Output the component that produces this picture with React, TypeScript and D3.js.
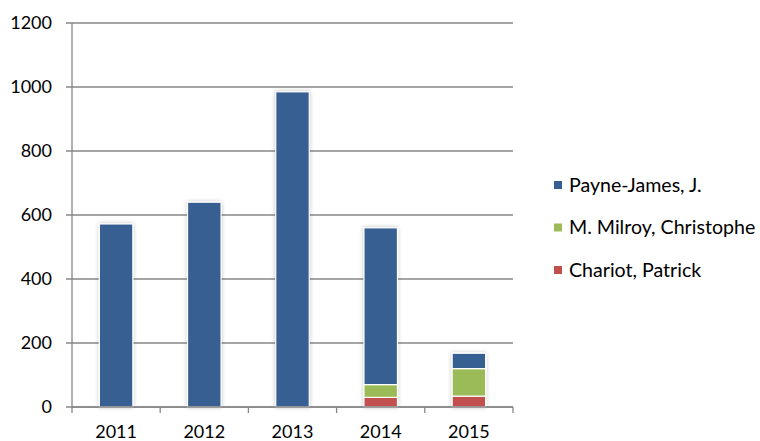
import React, { useEffect, useRef } from 'react';
import * as d3 from 'd3';

const years = ['2011', '2012', '2013', '2014', '2015'];
const payneJames = [572, 640, 985, 490, 48];
const milroy = [0, 0, 0, 40, 86];
const chariot = [0, 0, 0, 30, 34];
const seriesNames = ['Payne-James, J.', 'M. Milroy, Christophe', 'Chariot, Patrick'];
const seriesColors = ['#375f91', '#9bbb59', '#c0504d'];
const yTicks = [0, 200, 400, 600, 800, 1000, 1200];

function App() {
  const ref = useRef<SVGSVGElement>(null);

  useEffect(() => {
    const svg = d3.select(ref.current);
    svg.selectAll('*').remove();

    const left = 72;
    const right = 513;
    const top = 23;
    const bottom = 407;
    const font = 'Lato, Liberation Sans, sans-serif';
    const fontSize = 18;

    const x = d3.scaleBand().domain(years).range([left, right]).paddingInner(0.62).paddingOuter(0.31);
    const y = d3.scaleLinear().domain([0, 1200]).range([bottom, top]);

    const defs = svg.append('defs');
    const filter = defs.append('filter').attr('id', 'shadow').attr('x', '-30%').attr('y', '-10%').attr('width', '160%').attr('height', '120%');
    filter.append('feGaussianBlur').attr('in', 'SourceAlpha').attr('stdDeviation', 2);
    filter.append('feComponentTransfer').append('feFuncA').attr('type', 'linear').attr('slope', 0.25);
    const merge = filter.append('feMerge');
    merge.append('feMergeNode');
    merge.append('feMergeNode').attr('in', 'SourceGraphic');

    // gridlines
    svg.append('g')
      .selectAll('line')
      .data(yTicks)
      .enter()
      .append('line')
      .attr('x1', left - 6)
      .attr('x2', right)
      .attr('y1', (d) => y(d))
      .attr('y2', (d) => y(d))
      .attr('stroke', '#878787')
      .attr('stroke-width', 1.3);

    svg.append('g')
      .selectAll('text')
      .data(yTicks)
      .enter()
      .append('text')
      .attr('x', left - 20)
      .attr('y', (d) => y(d))
      .attr('dy', '0.35em')
      .attr('text-anchor', 'end')
      .attr('font-family', font)
      .attr('font-size', fontSize)
      .attr('fill', '#000')
      .text((d) => d);

    const stackData = years.map((yr, i) => ({
      year: yr,
      chariot: chariot[i],
      milroy: milroy[i],
      payne: payneJames[i],
    }));
    const keys = ['chariot', 'milroy', 'payne'];
    const colorOf: Record<string, string> = {
      payne: seriesColors[0],
      milroy: seriesColors[1],
      chariot: seriesColors[2],
    };
    const stacked = d3.stack<any>().keys(keys)(stackData);

    const barGroup = svg.append('g').attr('filter', 'url(#shadow)');
    stacked.forEach((layer) => {
      barGroup
        .append('g')
        .selectAll('rect')
        .data(layer.filter((d) => d[1] - d[0] > 0))
        .enter()
        .append('rect')
        .attr('x', (d) => x(d.data.year)!)
        .attr('y', (d) => y(d[1]))
        .attr('width', x.bandwidth())
        .attr('height', (d) => y(d[0]) - y(d[1]))
        .attr('fill', colorOf[layer.key])
        .attr('stroke', '#fff')
        .attr('stroke-width', 1.2);
    });

    // axes
    svg.append('line')
      .attr('x1', left).attr('x2', left).attr('y1', top).attr('y2', bottom)
      .attr('stroke', '#878787').attr('stroke-width', 1.3);
    svg.append('line')
      .attr('x1', left).attr('x2', right).attr('y1', bottom).attr('y2', bottom)
      .attr('stroke', '#878787').attr('stroke-width', 1.3);

    const step = (right - left) / years.length;
    svg.append('g')
      .selectAll('line')
      .data(d3.range(years.length + 1))
      .enter()
      .append('line')
      .attr('x1', (d) => left + d * step)
      .attr('x2', (d) => left + d * step)
      .attr('y1', bottom)
      .attr('y2', bottom + 6)
      .attr('stroke', '#878787')
      .attr('stroke-width', 1.3);

    svg.append('g')
      .selectAll('text')
      .data(years)
      .enter()
      .append('text')
      .attr('x', (d) => x(d)! + x.bandwidth() / 2)
      .attr('y', 432)
      .attr('dy', '0.35em')
      .attr('text-anchor', 'middle')
      .attr('font-family', font)
      .attr('font-size', fontSize)
      .text((d) => d);

    // legend
    const legend = svg.append('g')
      .selectAll('g')
      .data(seriesNames)
      .enter()
      .append('g')
      .attr('transform', (d, i) => `translate(554, ${185 + i * 42.5})`);
    legend.append('rect')
      .attr('x', 0)
      .attr('y', -4)
      .attr('width', 8)
      .attr('height', 8)
      .attr('fill', (d, i) => seriesColors[i]);
    legend.append('text')
      .attr('x', 15)
      .attr('y', 0)
      .attr('dy', '0.35em')
      .attr('font-family', font)
      .attr('font-size', 19.6)
      .text((d) => d);
  }, []);

  return (
    <svg ref={ref} width={760} height={441} style={{ position: 'absolute', left: 0, top: 0, background: '#fff' }} />
  );
}

export default App;
